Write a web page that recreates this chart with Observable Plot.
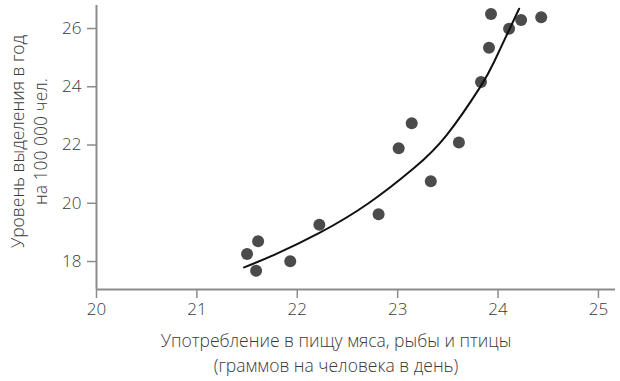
<!DOCTYPE html>
<html><head><meta charset="utf-8">
<script src="https://cdn.jsdelivr.net/npm/d3@7"></script>
<script src="https://cdn.jsdelivr.net/npm/@observablehq/plot@0.6"></script>
<style>
body{margin:0;background:#fff;}
</style></head><body><div id="chart"></div>
<script>
// Scatter data: meat/fish/poultry consumption (g/person/day) vs. rate per 100 000
const meatX = [21.50, 21.61, 21.59, 21.93, 22.22, 22.81, 23.01, 23.14, 23.33, 23.61, 23.83, 23.91, 23.93, 24.11, 24.23, 24.43];
const rateY = [18.26, 18.70, 17.68, 18.01, 19.26, 19.62, 21.89, 22.75, 20.76, 22.09, 24.16, 25.34, 26.50, 25.99, 26.29, 26.39];
// Fitted curve
const fitX = [21.47, 21.77, 22.23, 22.71, 23.16, 23.49, 23.82, 23.96, 24.11, 24.21];
const fitY = [17.80, 18.23, 19.00, 20.00, 21.20, 22.35, 23.98, 24.85, 25.95, 26.68];
const xTicks = [20, 21, 22, 23, 24, 25];
const yTicks = [18, 20, 22, 24, 26];
const xLabel = ["Употребление в пищу мяса, рыбы и птицы", "(граммов на человека в день)"];
const yLabel = ["Уровень выделения в год", "на 100 000 чел."];

const points = meatX.map((x, i) => ({x, y: rateY[i]}));
const fit = fitX.map((x, i) => ({x, y: fitY[i]}));

const xMin = 20, xMax = 25.17, yMin = 17.04, yMax = 26.79;
const axisColor = "#8c8c8c";
const textColor = "#3a3a3a";
const font = "'Open Sans', sans-serif";

const chart = Plot.plot({
  width: 620,
  height: 381,
  marginLeft: 96,
  marginRight: 5,
  marginTop: 5,
  marginBottom: 92,
  x: {domain: [xMin, xMax]},
  y: {domain: [yMin, yMax]},
  style: {fontFamily: font, fontSize: "17px", color: textColor, background: "#fff"},
  marks: [
    Plot.axisX(xTicks, {tickSize: 9, tickPadding: 4, stroke: axisColor, strokeWidth: 1.5, fill: textColor, fontSize: 17, fontWeight: 300, label: null}),
    Plot.axisY(yTicks, {tickSize: 9, tickPadding: 6, stroke: axisColor, strokeWidth: 1.5, fill: textColor, fontSize: 17, fontWeight: 300, label: null}),
    Plot.ruleY([yMin], {x1: xMin, x2: xMax, stroke: axisColor, strokeWidth: 2}),
    Plot.ruleX([xMin], {y1: yMin, y2: yMax, stroke: axisColor, strokeWidth: 2}),
    Plot.dot(points, {x: "x", y: "y", r: 6, fill: "#4b4b4b", stroke: "none"}),
    Plot.line(fit, {x: "x", y: "y", curve: "natural", stroke: "#111", strokeWidth: 2}),
    Plot.text([xLabel.join("\n")], {frameAnchor: "bottom", dx: -20, dy: 62, textAnchor: "middle", lineAnchor: "middle", lineHeight: 1.4, fontSize: 17.5, fontWeight: 300, fill: textColor}),
    Plot.text([yLabel.join("\n")], {frameAnchor: "left", dx: -68, dy: -6, rotate: -90, textAnchor: "middle", lineAnchor: "middle", lineHeight: 1.3, fontSize: 17.5, fontWeight: 300, fill: textColor})
  ]
});
document.getElementById("chart").appendChild(chart);
</script>
</body></html>
